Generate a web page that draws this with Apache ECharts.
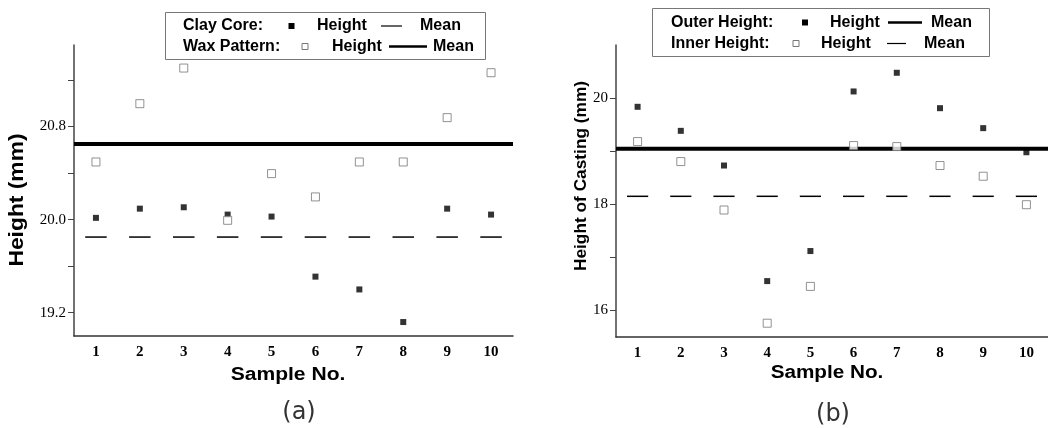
<!DOCTYPE html>
<html><head><meta charset="utf-8">
<script src="https://cdn.jsdelivr.net/npm/echarts@6/dist/echarts.min.js"></script>
<style>html,body{margin:0;padding:0;background:#fff}#c{width:1048px;height:428px}</style>
</head><body><div id="c"></div>
<script>
// ---- data ----
const samples = [1, 2, 3, 4, 5, 6, 7, 8, 9, 10];
const clayCore = [20.015, 20.094, 20.106, 20.043, 20.026, 19.51, 19.40, 19.12, 20.094, 20.043];
const waxPattern = [20.495, 20.996, 21.302, 19.994, 20.395, 20.195, 20.495, 20.495, 20.876, 21.262];
const clayMean = 19.85;
const waxMean = 20.65;
const outerHeight = [19.836, 19.383, 18.73, 16.553, 17.119, 20.125, 20.477, 19.81, 19.434, 18.98];
const innerHeight = [19.181, 18.804, 17.892, 15.76, 16.453, 19.106, 19.087, 18.73, 18.528, 17.992];
const outerMean = 19.045;
const innerMean = 18.15;
const leftTicks = [19.2, 19.6, 20.0, 20.4, 20.8, 21.2];
const leftLabels = [19.2, 20.0, 20.8];
const rightTicks = [16, 17, 18, 19, 20];
const rightLabels = [16, 18, 20];

const chart = echarts.init(document.getElementById('c'), null, {renderer: 'canvas'});
const SERIF = '"Liberation Serif","DejaVu Serif",serif';
const SANS = '"Liberation Sans",Arial,sans-serif';

function xAxis(gi) {
  return {
    type: 'value', gridIndex: gi, min: 0.5, max: 10.5,
    axisLine: {show: true, onZero: false, lineStyle: {color: '#333', width: 1.5}},
    axisTick: {show: false},
    splitLine: {show: false},
    axisLabel: {customValues: samples, color: '#000', fontFamily: SERIF, fontWeight: 'bold', fontSize: 15, margin: 9}
  };
}
function yAxis(gi, min, max, ticks, labels, dec) {
  return {
    type: 'value', gridIndex: gi, min: min, max: max,
    axisLine: {show: true, onZero: false, lineStyle: {color: '#444', width: 1.5}},
    axisTick: {show: true, customValues: ticks, length: 6, lineStyle: {color: '#444', width: 1}},
    splitLine: {show: false},
    axisLabel: {customValues: labels, color: '#000', fontFamily: SERIF, fontSize: 15, margin: 8,
      formatter: v => Number(v).toFixed(dec)}
  };
}
function dashSeries(gi, mean) {
  return {
    type: 'custom', xAxisIndex: gi, yAxisIndex: gi, silent: true, z: 2,
    data: samples.map(s => [s, mean]),
    renderItem: (params, api) => {
      const x = api.value(0), y = api.value(1);
      const p1 = api.coord([x - 0.245, y]), p2 = api.coord([x + 0.245, y]);
      return {type: 'line', shape: {x1: p1[0], y1: p1[1], x2: p2[0], y2: p2[1]},
        style: {stroke: '#000', lineWidth: 1.5}};
    }
  };
}
function meanLine(gi, mean) {
  return {type: 'line', xAxisIndex: gi, yAxisIndex: gi, data: [[0.5, mean], [10.5, mean]],
    symbol: 'none', silent: true, z: 2, lineStyle: {color: '#000', width: 4}};
}
function filled(gi, vals) {
  return {type: 'scatter', xAxisIndex: gi, yAxisIndex: gi, symbol: 'rect', symbolSize: 6, z: 3,
    data: samples.map((s, i) => [s, vals[i]]), itemStyle: {color: '#000'}};
}
function open(gi, vals) {
  return {type: 'scatter', xAxisIndex: gi, yAxisIndex: gi, symbol: 'rect', symbolSize: 8, z: 4,
    data: samples.map((s, i) => [s, vals[i]]), itemStyle: {color: '#fff', borderColor: '#777', borderWidth: 1}};
}

const lt = (x, y, t) => ({type: 'text', x: x, y: y,
  style: {text: t, font: 'bold 16px ' + SANS, fill: '#000', verticalAlign: 'middle', align: 'left'}});
const sq = (cx, cy, fill) => ({type: 'rect', shape: {x: cx - 3, y: cy - 3, width: 6, height: 6},
  style: fill ? {fill: '#000'} : {fill: '#fff', stroke: '#777', lineWidth: 1}});
const ln = (x1, x2, y, w) => ({type: 'line', shape: {x1: x1, y1: y, x2: x2, y2: y}, style: {stroke: '#000', lineWidth: w}});

const graphics = [
  // left legend
  {type: 'rect', shape: {x: 165.5, y: 12.5, width: 320, height: 47}, style: {fill: '#fff', stroke: '#777', lineWidth: 1}, z: 10},
  lt(183, 26, 'Clay Core:'), sq(291.5, 26, true), lt(317, 26, 'Height'), ln(381, 402, 26, 1.2), lt(420, 26, 'Mean'),
  lt(183, 46.5, 'Wax Pattern:'), sq(305, 46.5, false), lt(332, 46.5, 'Height'), ln(389, 427, 46.5, 2.5), lt(433, 46.5, 'Mean'),
  // right legend
  {type: 'rect', shape: {x: 652.5, y: 8.5, width: 337, height: 48}, style: {fill: '#fff', stroke: '#777', lineWidth: 1}, z: 10},
  lt(671, 22.5, 'Outer Height:'), sq(805, 22.5, true), lt(830, 22.5, 'Height'), ln(888, 922, 22.5, 2.5), lt(931, 22.5, 'Mean'),
  lt(671, 43.5, 'Inner Height:'), sq(796, 43.5, false), lt(821, 43.5, 'Height'), ln(887, 906, 43.5, 1.2), lt(924, 43.5, 'Mean'),
  // axis titles
  {type: 'text', x: 18, y: 200, rotation: Math.PI / 2, scaleX: 1.17,
    style: {text: 'Height (mm)', font: 'bold 19.5px ' + SANS, fill: '#000', align: 'center', verticalAlign: 'middle'}},
  {type: 'text', x: 581, y: 176, rotation: Math.PI / 2,
    style: {text: 'Height of Casting (mm)', font: 'bold 17.3px ' + SANS, fill: '#000', align: 'center', verticalAlign: 'middle'}},
  {type: 'text', x: 288, y: 375, scaleX: 1.17,
    style: {text: 'Sample No.', font: 'bold 18px ' + SANS, fill: '#000', align: 'center', verticalAlign: 'middle'}},
  {type: 'text', x: 827, y: 373, scaleX: 1.15,
    style: {text: 'Sample No.', font: 'bold 18px ' + SANS, fill: '#000', align: 'center', verticalAlign: 'middle'}},
  {type: 'text', x: 299, y: 413, style: {text: '(a)', font: '24px "DejaVu Sans",sans-serif', fill: '#333', align: 'center', verticalAlign: 'middle'}},
  {type: 'text', x: 833, y: 415, style: {text: '(b)', font: '24px "DejaVu Sans",sans-serif', fill: '#333', align: 'center', verticalAlign: 'middle'}}
];
graphics.forEach(g => { if (g.z === undefined) g.z = 11; });

chart.setOption({
  animation: false,
  backgroundColor: '#fff',
  grid: [
    {left: 74, top: 45, width: 439, height: 291},
    {left: 616, top: 45, width: 432, height: 292}
  ],
  xAxis: [xAxis(0), xAxis(1)],
  yAxis: [yAxis(0, 19.0, 21.5, leftTicks, leftLabels, 1), yAxis(1, 15.5, 21.0, rightTicks, rightLabels, 0)],
  series: [
    meanLine(0, waxMean), dashSeries(0, clayMean), filled(0, clayCore), open(0, waxPattern),
    meanLine(1, outerMean), dashSeries(1, innerMean), filled(1, outerHeight), open(1, innerHeight)
  ],
  graphic: graphics
});
</script></body></html>
